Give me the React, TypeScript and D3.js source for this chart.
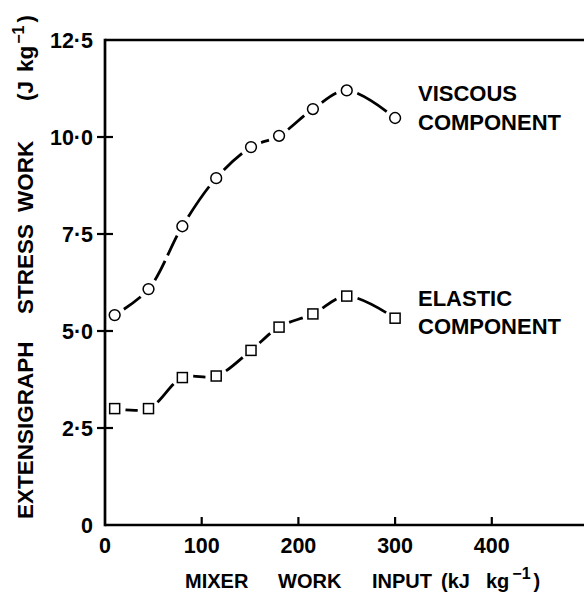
import React, { useLayoutEffect, useRef, useState } from "react";
import * as d3 from "d3";

const mixerWork = [10, 45, 80, 115, 151, 180, 215, 250, 300];
const viscous = [5.41, 6.08, 7.7, 8.94, 9.74, 10.03, 10.72, 11.2, 10.49];
const elastic = [3.0, 3.0, 3.8, 3.84, 4.5, 5.1, 5.44, 5.9, 5.33];
const xTicks = [0, 100, 200, 300, 400];
const yTicks = [0, 2.5, 5, 7.5, 10, 12.5];
const yTickLabels = ["0", "2·5", "5·0", "7·5", "10·0", "12·5"];

const W = 584;
const H = 600;
const FONT = "'Liberation Sans', Arial, Helvetica, sans-serif";

function buildDash(path: SVGPathElement, xs: number[]): string {
  const total = path.getTotalLength();
  const lenAt = (tx: number) => {
    let lo = 0,
      hi = total;
    for (let k = 0; k < 40; k++) {
      const mid = (lo + hi) / 2;
      if (path.getPointAtLength(mid).x < tx) lo = mid;
      else hi = mid;
    }
    return (lo + hi) / 2;
  };
  const L = xs.map((v, i) => (i === 0 ? 0 : i === xs.length - 1 ? total : lenAt(v)));
  const h = 11;
  const g = 6;
  const arr: number[] = [0, h];
  for (let i = 0; i < L.length - 1; i++) {
    const V = L[i + 1] - L[i] - 2 * h;
    if (V <= 0) {
      arr[arr.length - 1] += L[i + 1] - L[i];
      continue;
    }
    const n = Math.max(1, Math.round(V / 30));
    const d = (V - (n - 1) * g) / n;
    for (let k = 0; k < n; k++) {
      arr.push(d);
      arr.push(k < n - 1 ? g : 2 * h);
    }
  }
  return arr.map((v) => v.toFixed(2)).join(" ");
}

export default function App() {
  const x = d3.scaleLinear().domain([0, 500]).range([105, 588.5]);
  const y = d3.scaleLinear().domain([0, 12.5]).range([525, 40]);

  const line = d3
    .line<[number, number]>()
    .x((d) => x(d[0]))
    .y((d) => y(d[1]))
    .curve(d3.curveCatmullRom.alpha(0.5));

  const vPts: [number, number][] = mixerWork.map((m, i) => [m, viscous[i]]);
  const ePts: [number, number][] = mixerWork.map((m, i) => [m, elastic[i]]);

  const vRef = useRef<SVGPathElement>(null);
  const eRef = useRef<SVGPathElement>(null);
  const [dashes, setDashes] = useState<[string, string]>(["none", "none"]);

  useLayoutEffect(() => {
    const xs = mixerWork.map((m) => x(m));
    if (vRef.current && eRef.current) {
      const a = buildDash(vRef.current, xs);
      const b = buildDash(eRef.current, xs);
      vRef.current.setAttribute("stroke-dasharray", a);
      eRef.current.setAttribute("stroke-dasharray", b);
      setDashes([a, b]);
    }
  }, []);

  const txt = { fontFamily: FONT, fontWeight: "bold" as const };

  return (
    <svg width={W} height={H} style={{ position: "absolute", left: 0, top: 0, background: "#fff" }}>
      <rect width={W} height={H} fill="#fff" />
      {/* curves */}
      <path ref={vRef} d={line(vPts) || ""} fill="none" stroke="#000" strokeWidth={2.8} strokeDasharray={dashes[0]} />
      <path ref={eRef} d={line(ePts) || ""} fill="none" stroke="#000" strokeWidth={2.8} strokeDasharray={dashes[1]} />
      {/* markers */}
      {vPts.map((p, i) => (
        <circle key={"v" + i} cx={x(p[0])} cy={y(p[1])} r={5.4} fill="#fff" stroke="#000" strokeWidth={1.5} />
      ))}
      {ePts.map((p, i) => (
        <rect key={"e" + i} x={x(p[0]) - 5} y={y(p[1]) - 5} width={10} height={10} fill="#fff" stroke="#000" strokeWidth={1.5} />
      ))}
      {/* frame */}
      <line x1={x(0)} x2={W} y1={y(12.5)} y2={y(12.5)} stroke="#000" strokeWidth={2.7} />
      <line x1={x(0)} x2={W} y1={y(0)} y2={y(0)} stroke="#000" strokeWidth={2.7} />
      <line x1={x(0)} x2={x(0)} y1={y(12.5) - 1.3} y2={y(0) + 1.3} stroke="#000" strokeWidth={2.7} />
      {/* y ticks */}
      {yTicks.map((t, i) => (
        <g key={"yt" + i}>
          {t > 0 && t < 12.5 && (
            <line x1={x(0) - 8} x2={x(0) + 8} y1={y(t)} y2={y(t)} stroke="#000" strokeWidth={2.2} />
          )}
          <text x={93} y={y(t)} dy="0.36em" textAnchor="end" {...txt} fontSize={21.5}>
            {yTickLabels[i]}
          </text>
        </g>
      ))}
      {/* x ticks */}
      {xTicks.map((t, i) => (
        <g key={"xt" + i}>
          {t > 0 && <line x1={x(t)} x2={x(t)} y1={y(0)} y2={y(0) - 8} stroke="#000" strokeWidth={2.2} />}
          <text x={x(t)} y={553} textAnchor="middle" {...txt} fontSize={21.5}>
            {String(t)}
          </text>
        </g>
      ))}
      {/* series labels */}
      <text {...txt} fontSize={22}>
        <tspan x={418} y={101}>VISCOUS</tspan>
        <tspan x={418} y={130}>COMPONENT</tspan>
      </text>
      <text {...txt} fontSize={22}>
        <tspan x={418} y={306}>ELASTIC</tspan>
        <tspan x={418} y={334}>COMPONENT</tspan>
      </text>
      {/* x title */}
      <g {...txt} fontSize={20}>
        <text x={185} y={588}>MIXER</text>
        <text x={278} y={588}>WORK</text>
        <text x={372} y={588}>INPUT</text>
        <text x={441} y={588}>(kJ</text>
        <text x={486} y={588}>
          kg
          <tspan dx={3} dy={-9} fontSize={16}>−1</tspan>
          <tspan dx={3} dy={9}>)</tspan>
        </text>
      </g>
      {/* y title */}
      <g {...txt} fontSize={22.5}>
        <text transform="translate(33,519) rotate(-90)">EXTENSIGRAPH</text>
        <text transform="translate(33,314) rotate(-90)">STRESS</text>
        <text transform="translate(33,212) rotate(-90)">WORK</text>
        <text transform="translate(33,101) rotate(-90)">
          (J
          <tspan dx={9}>kg</tspan>
          <tspan dx={2} dy={-9} fontSize={16}>−1</tspan>
          <tspan dx={3} dy={9}>)</tspan>
        </text>
      </g>
    </svg>
  );
}
